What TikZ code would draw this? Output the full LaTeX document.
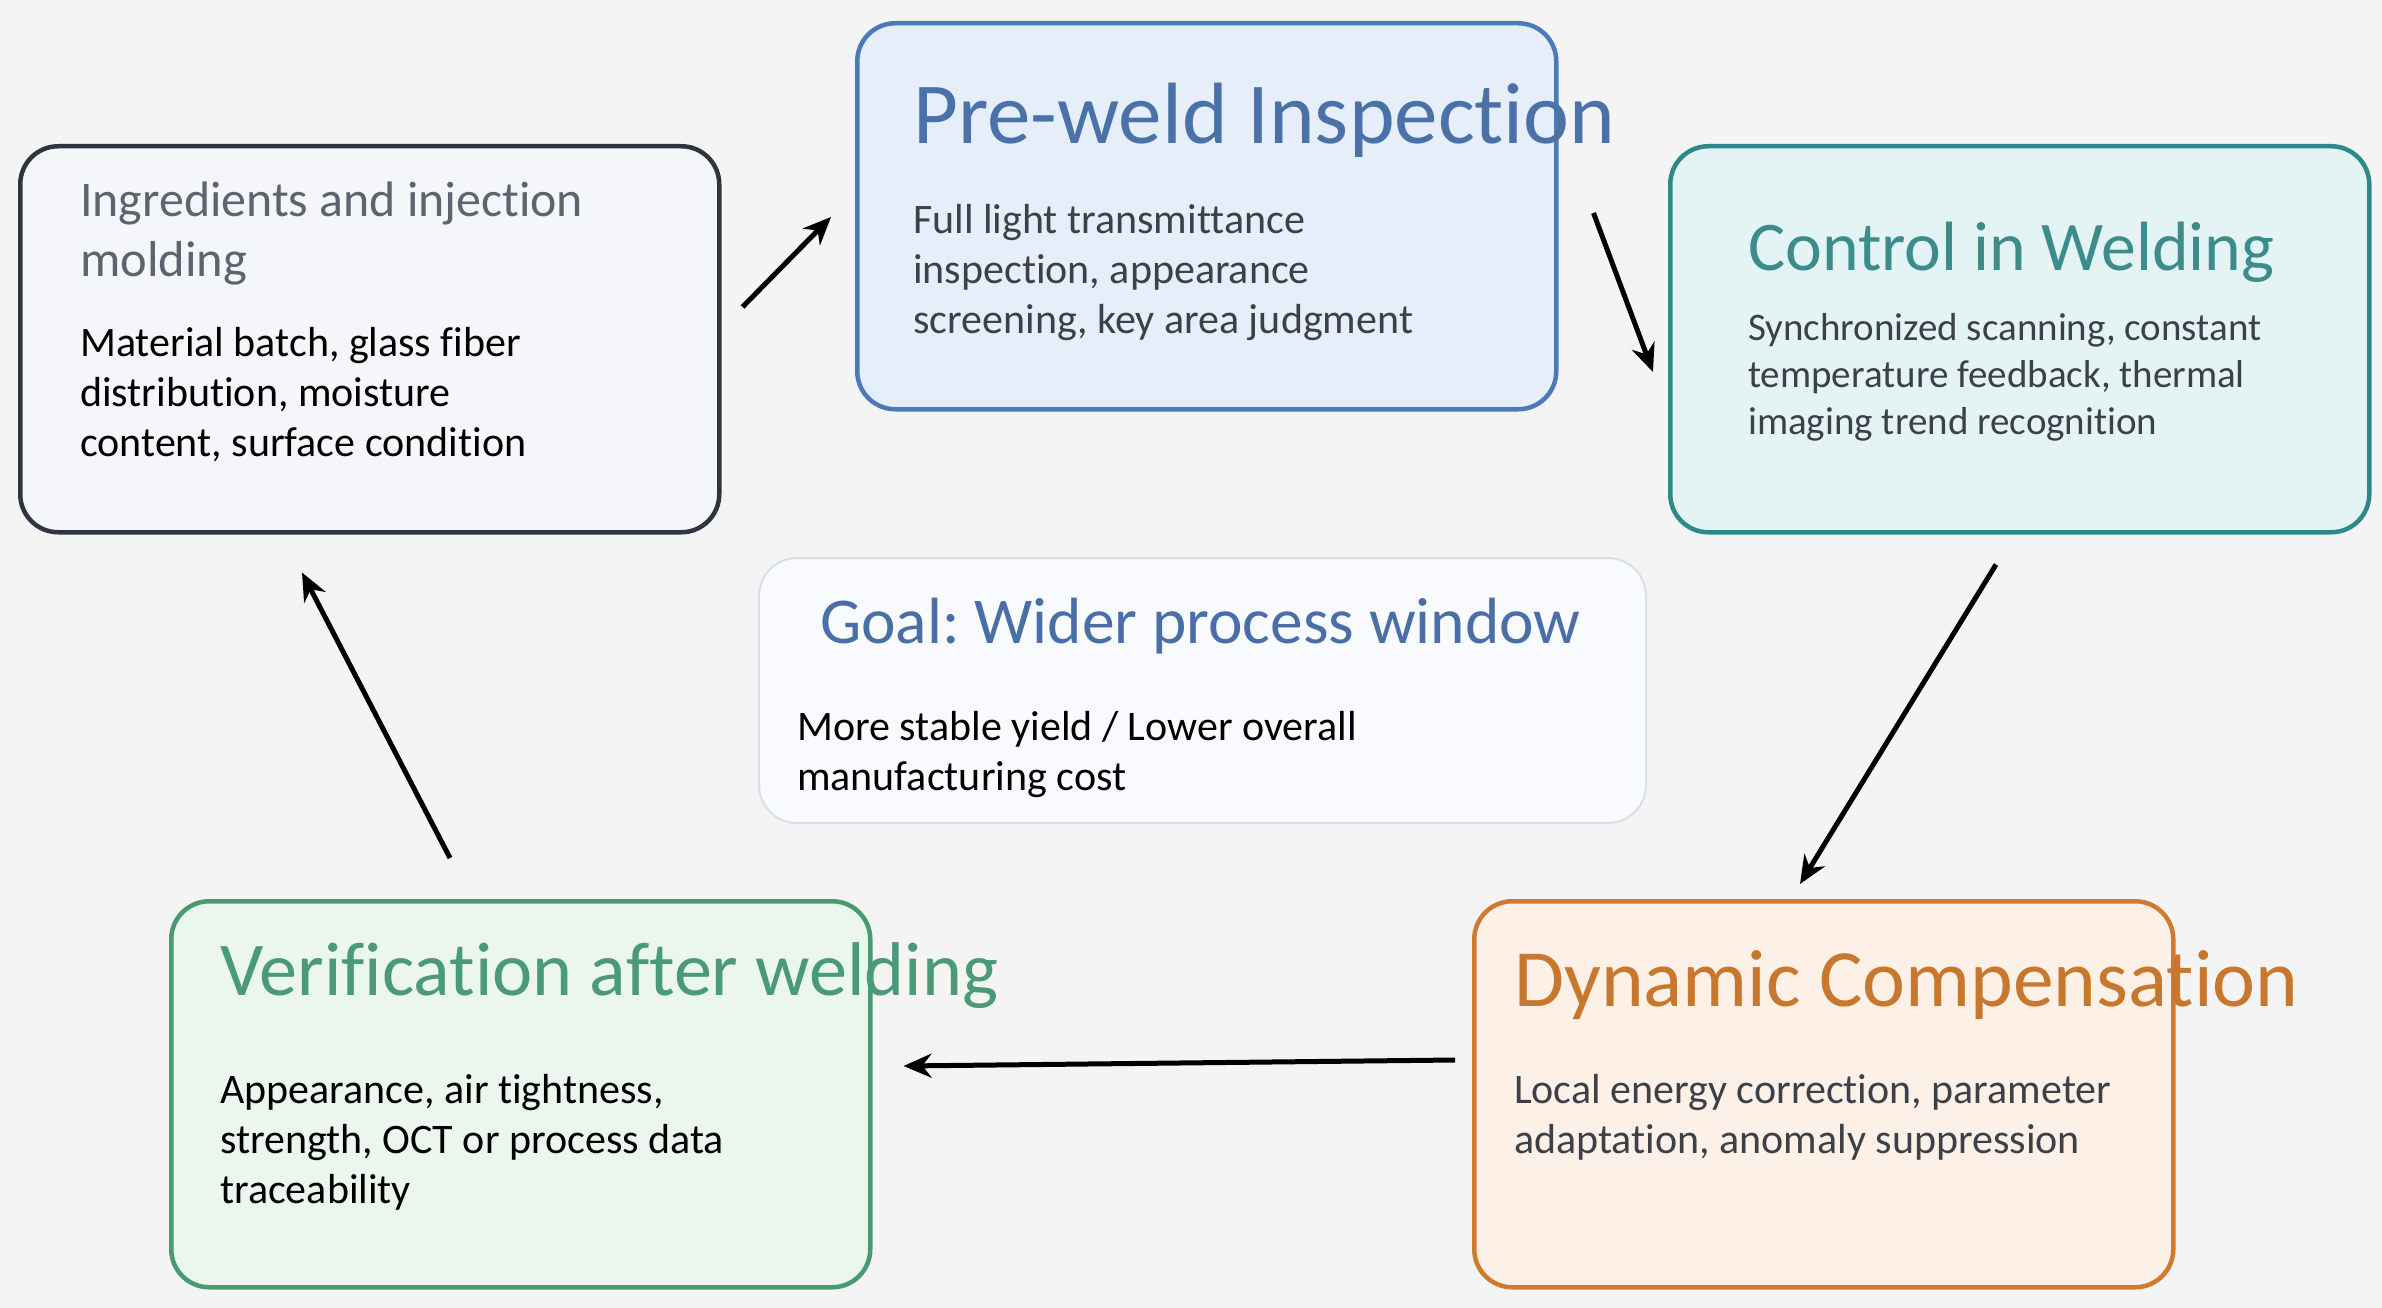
\documentclass[tikz,border=0pt]{standalone}
\usepackage{fontspec}
\usepackage{graphicx}
\setmainfont{Carlito}[Ligatures=NoCommon]
\usetikzlibrary{arrows.meta,calc}
\frenchspacing
\definecolor{bg}{HTML}{F4F4F4}
\definecolor{bAd}{HTML}{2E3440}\definecolor{fA}{HTML}{F5F6F9}\definecolor{tA}{HTML}{5C6470}
\definecolor{bBd}{HTML}{4A7AB8}\definecolor{fB}{HTML}{E6EEFA}\definecolor{tB}{HTML}{4A72A8}
\definecolor{bCd}{HTML}{2E8A8A}\definecolor{fC}{HTML}{E4F4F4}\definecolor{tC}{HTML}{3D8C8C}
\definecolor{bGd}{HTML}{D8E0EA}\definecolor{fG}{HTML}{F8FAFD}\definecolor{tG}{HTML}{4A6FA8}
\definecolor{bVd}{HTML}{4A9A70}\definecolor{fV}{HTML}{EAF6EE}\definecolor{tV}{HTML}{4A9A78}
\definecolor{bDd}{HTML}{D07A30}\definecolor{fD}{HTML}{FDF0E6}\definecolor{tD}{HTML}{C8782E}
\definecolor{grayt}{HTML}{3C4048}
\newcommand{\fw}[2]{\resizebox{#1pt}{!}{#2}}
\tikzset{
  card/.style={rounded corners=38pt, line width=4.5pt, minimum width=699pt, minimum height=386pt, anchor=north west, inner sep=0pt},
  ttl/.style={anchor=base west, inner sep=0pt},
  body/.style={anchor=base west, inner sep=0pt, align=left, font=\fontsize{42}{50}\selectfont},
  flow/.style={line width=5pt, -{Stealth[length=28pt,width=24pt]}, black}
}
\begin{document}
\begin{tikzpicture}[x=1pt,y=-1pt]
\fill[bg] (0,0) rectangle (2382,1308);
\useasboundingbox (0,0) rectangle (2382,1308);
% boxes
\node[card, draw=bAd, fill=fA] (b1) at (18,144) {};
\node[card, draw=bBd, fill=fB] (b2) at (855,21) {};
\node[card, draw=bCd, fill=fC] (b3) at (1668,144) {};
\node[card, draw=bGd, fill=fG, line width=2pt, minimum width=887pt, minimum height=265pt] (bg) at (758,557) {};
\node[card, draw=bVd, fill=fV] (b5) at (169,899) {};
\node[card, draw=bDd, fill=fD] (b6) at (1472,899) {};
% box 1
\node[ttl, text=tA] (t1a) at (80,217) {\fw{503}{Ingredients and injection}};
\node[ttl, text=tA] (t1b) at (80,276) {\fw{167}{molding}};
\node[body, text=black] (d1) at (80,456) {Material batch, glass fiber\\distribution, moisture\\content, surface condition};
% box 2
\node[ttl, text=tB] (t2) at (913,144) {\fw{702}{Pre-weld Inspection}};
\node[body, text=grayt] (d2) at (913,333) {Full light transmittance\\inspection, appearance\\screening, key area judgment};
% box 3
\node[ttl, text=tC] (t3) at (1748,270) {\fw{526}{Control in Welding}};
\node[body, text=grayt, font=\fontsize{39}{47}\selectfont] (d3) at (1748,434) {Synchronized scanning, constant\\temperature feedback, thermal\\imaging trend recognition};
% goal
\node[ttl, text=tG] (tg) at (820,643) {\fw{760}{Goal: Wider process window}};
\node[body, text=black] (dg) at (797,790) {More stable yield / Lower overall\\manufacturing cost};
% box 5
\node[ttl, text=tV] (t5) at (220,995) {\fw{778}{Verification after welding}};
\node[body, text=black] (d5) at (220,1203) {Appearance, air tightness,\\strength, OCT or process data\\traceability};
% box 6
\node[ttl, text=tD] (t6) at (1514,1006) {\fw{784}{Dynamic Compensation}};
\node[body, text=grayt] (d6) at (1514,1153) {Local energy correction, parameter\\adaptation, anomaly suppression};
% arrows
\coordinate (a1s) at ($(b1.north east)+(21,163)$);
\coordinate (a1e) at ($(b2.north west)+(-24,196)$);
\coordinate (a2s) at ($(b2.north east)+(35,192)$);
\coordinate (a2e) at ($(b3.north west)+(-15,228)$);
\coordinate (a3s) at ($(b3.south west)+(328,30)$);
\coordinate (a3e) at ($(b6.north west)+(328,-15)$);
\coordinate (a4s) at ($(b6.north west)+(-17,161)$);
\coordinate (a4e) at ($(b5.north east)+(31,167)$);
\coordinate (a5s) at ($(b5.north west)+(281,-41)$);
\coordinate (a5e) at ($(b1.south west)+(284,38)$);
\draw[flow] (a1s) -- (a1e);
\draw[flow] (a2s) -- (a2e);
\draw[flow] (a3s) -- (a3e);
\draw[flow] (a4s) -- (a4e);
\draw[flow] (a5s) -- (a5e);
\end{tikzpicture}
\end{document}
